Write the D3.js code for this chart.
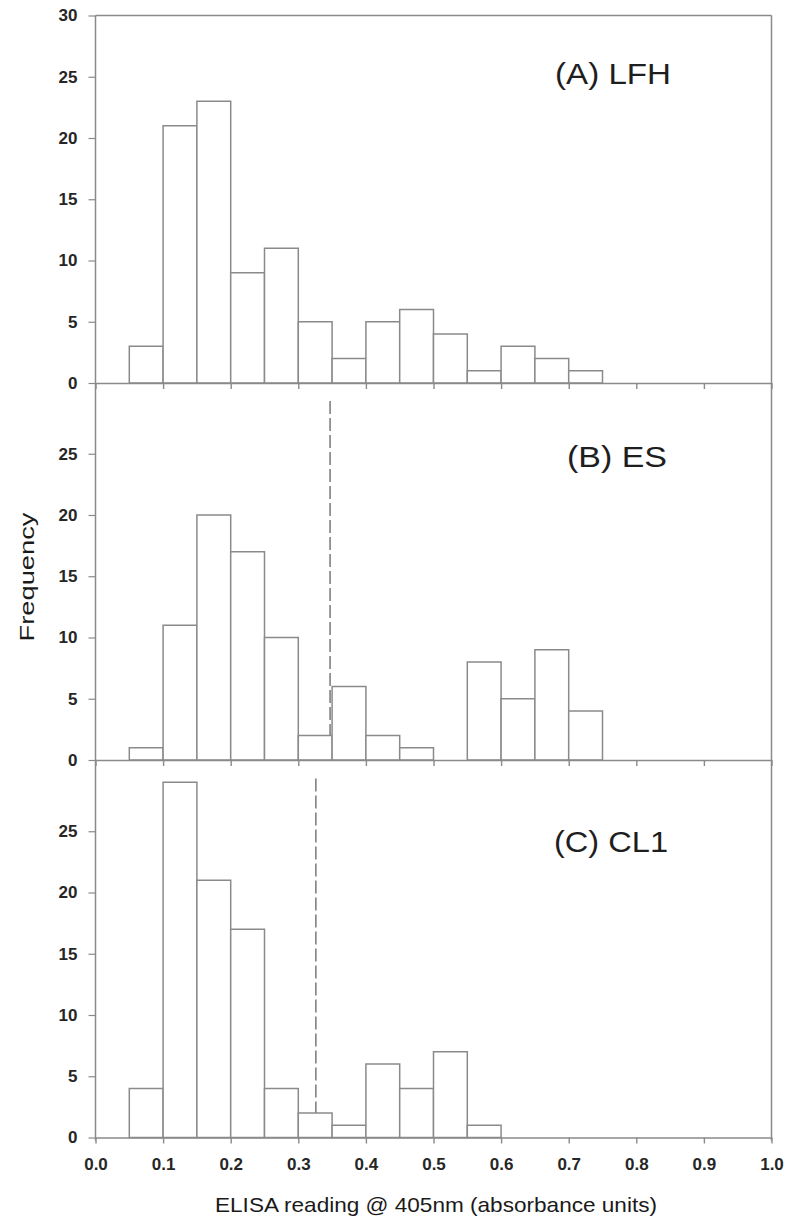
<!DOCTYPE html>
<html>
<head>
<meta charset="utf-8">
<script src="https://cdn.jsdelivr.net/npm/d3@7"></script>
<style>
  html, body { margin: 0; padding: 0; background: #fff; }
  svg { display: block; }
  text { font-family: "Liberation Sans", Arial, sans-serif; }
</style>
</head>
<body>
<svg id="chart" width="790" height="1219"></svg>
<script>
// ---------- data ----------
const binStarts = [0.00, 0.05, 0.10, 0.15, 0.20, 0.25, 0.30, 0.35, 0.40, 0.45,
                   0.50, 0.55, 0.60, 0.65, 0.70, 0.75, 0.80, 0.85, 0.90, 0.95];
const binWidth = 0.05;
const countsLFH = [0, 3, 21, 23, 9, 11, 5, 2, 5, 6, 4, 1, 3, 2, 1, 0, 0, 0, 0, 0];
const countsES  = [0, 1, 11, 20, 17, 10, 2, 6, 2, 1, 0, 8, 5, 9, 4, 0, 0, 0, 0, 0];
const countsCL1 = [0, 4, 29, 21, 17, 4, 2, 1, 6, 4, 7, 1, 0, 0, 0, 0, 0, 0, 0, 0];
const panelLabels = ["(A) LFH", "(B) ES", "(C) CL1"];
const cutoffValues = [null, 0.347, 0.326];
const cutoffTop = 29.3;
const xTickValues = [0, 0.1, 0.2, 0.3, 0.4, 0.5, 0.6, 0.7, 0.8, 0.9, 1.0];
const xTickLabels = ["0.0", "0.1", "0.2", "0.3", "0.4", "0.5", "0.6", "0.7", "0.8", "0.9", "1.0"];
const yTicksTop = [0, 5, 10, 15, 20, 25, 30];
const yTicksLower = [0, 5, 10, 15, 20, 25];
const xTitle = "ELISA reading @ 405nm (absorbance units)";
const yTitle = "Frequency";

// ---------- layout ----------
const svg = d3.select("#chart");
const left = 95.5, right = 771.5;
const zeros = [383, 760, 1137.5];
const tops = [15.5, 383, 760];
const pxPerUnit = 12.25;
const lineColor = "#8a8a8a";
const textColor = "#262626";

const x = d3.scaleLinear().domain([0, 1]).range([left, right]);

const panels = [
  { counts: countsLFH, label: panelLabels[0], cutoff: cutoffValues[0], yticks: yTicksTop,
    labelX: 555, labelY: 83.5, labelLen: 116 },
  { counts: countsES, label: panelLabels[1], cutoff: cutoffValues[1], yticks: yTicksLower,
    labelX: 567, labelY: 467, labelLen: 100 },
  { counts: countsCL1, label: panelLabels[2], cutoff: cutoffValues[2], yticks: yTicksLower,
    labelX: 554, labelY: 852, labelLen: 114 }
];

panels.forEach((p, i) => {
  const y = d3.scaleLinear().domain([0, 30]).range([zeros[i], zeros[i] - 30 * pxPerUnit]);
  const g = svg.append("g");

  // cutoff dashed line (behind bars)
  if (p.cutoff !== null) {
    g.append("line")
      .attr("x1", x(p.cutoff)).attr("x2", x(p.cutoff))
      .attr("y1", y(cutoffTop)).attr("y2", y(0))
      .attr("stroke", "#6f6f6f").attr("stroke-width", 1.4)
      .attr("stroke-dasharray", "13,4");
  }

  // bars
  const bins = binStarts.map((b, j) => ({ x0: b, x1: b + binWidth, v: p.counts[j] }));
  g.selectAll("rect.bar").data(bins.filter(d => d.v > 0)).join("rect")
    .attr("class", "bar")
    .attr("x", d => x(d.x0))
    .attr("width", d => x(d.x1) - x(d.x0))
    .attr("y", d => y(d.v))
    .attr("height", d => y(0) - y(d.v))
    .attr("fill", "#fff")
    .attr("stroke", lineColor)
    .attr("stroke-width", 1.5);

  // x axis (zero line + ticks)
  const xAxis = d3.axisBottom(x).tickValues(xTickValues).tickSize(6).tickSizeOuter(0)
    .tickFormat((d, k) => i === 2 ? xTickLabels[k] : "");
  const xg = g.append("g").attr("transform", `translate(0,${y(0)})`).call(xAxis);
  xg.select(".domain").attr("stroke", lineColor).attr("stroke-width", 1.4);
  xg.selectAll(".tick line").attr("stroke", lineColor).attr("stroke-width", 1.4);
  xg.selectAll(".tick text")
    .attr("fill", textColor).attr("font-size", 17).attr("font-weight", "bold")
    .attr("font-family", "'Liberation Sans', Arial, sans-serif")
    .attr("dy", "1.4em");

  // y axis ticks
  const yAxis = d3.axisLeft(y).tickValues(p.yticks).tickSize(7).tickPadding(11).tickSizeOuter(0);
  const yg = g.append("g").attr("transform", `translate(${left},0)`).call(yAxis);
  yg.select(".domain").remove();
  yg.selectAll(".tick line").attr("stroke", lineColor).attr("stroke-width", 1.2);
  yg.selectAll(".tick text")
    .attr("fill", textColor).attr("font-size", 17).attr("font-weight", "bold")
    .attr("font-family", "'Liberation Sans', Arial, sans-serif");

  // panel label
  g.append("text")
    .attr("x", p.labelX).attr("y", p.labelY)
    .attr("textLength", p.labelLen).attr("lengthAdjust", "spacingAndGlyphs")
    .attr("font-size", 29).attr("fill", "#1e1e1e")
    .text(p.label);
});

// frame: left axis, top and right border
svg.append("line").attr("x1", left).attr("x2", left).attr("y1", tops[0]).attr("y2", zeros[2] + 3)
  .attr("stroke", lineColor).attr("stroke-width", 1.5);
svg.append("line").attr("x1", left).attr("x2", right).attr("y1", tops[0]).attr("y2", tops[0])
  .attr("stroke", lineColor).attr("stroke-width", 1.4);
svg.append("line").attr("x1", right).attr("x2", right).attr("y1", tops[0]).attr("y2", zeros[2] + 3)
  .attr("stroke", lineColor).attr("stroke-width", 1.5);

// axis titles
svg.append("text")
  .attr("x", 215).attr("y", 1212)
  .attr("textLength", 442).attr("lengthAdjust", "spacingAndGlyphs")
  .attr("font-size", 21).attr("fill", "#1a1a1a")
  .text(xTitle);

svg.append("text")
  .attr("transform", "translate(34,577) rotate(-90)")
  .attr("text-anchor", "middle")
  .attr("textLength", 129).attr("lengthAdjust", "spacingAndGlyphs")
  .attr("font-size", 21).attr("fill", "#1a1a1a")
  .text(yTitle);
</script>
</body>
</html>
